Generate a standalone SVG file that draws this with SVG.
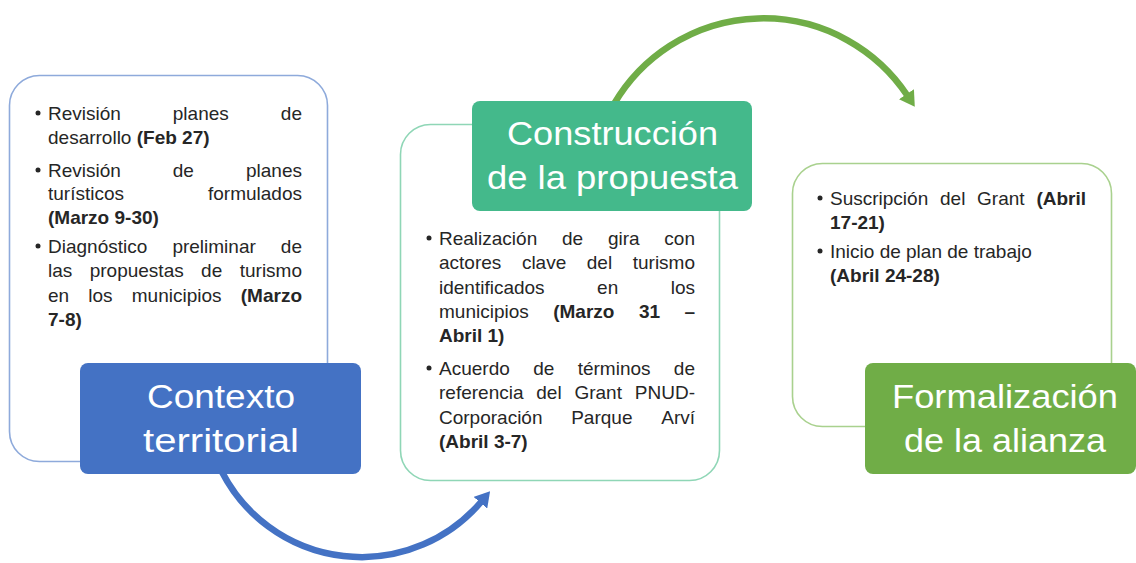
<svg xmlns="http://www.w3.org/2000/svg" width="1136" height="563" viewBox="0 0 1136 563">
<defs>
<style>
.body{font-family:"Liberation Sans",Arial,sans-serif;font-size:19px;fill:#262626}
.b{font-weight:bold}
.lab{font-family:"Liberation Sans",Arial,sans-serif;font-size:33px;fill:#ffffff}
.dot{fill:#262626}
.card{fill:#ffffff;stroke-width:1.6}
</style>
<marker id="ahBlue" markerUnits="userSpaceOnUse" markerWidth="15" markerHeight="18" viewBox="0 0 15 18" refX="1" refY="9" orient="auto">
<path d="M0,0 L15,9 L0,18 z" fill="#4472c4"/>
</marker>
<marker id="ahGreen" markerUnits="userSpaceOnUse" markerWidth="15" markerHeight="18" viewBox="0 0 15 18" refX="1" refY="9" orient="auto">
<path d="M0,0 L15,9 L0,18 z" fill="#70ad47"/>
</marker>
</defs>
<rect width="1136" height="563" fill="#ffffff"/>

<g id="connectors" fill="none" stroke-width="6.5">
<path d="M222,472 A157,157 0 0 0 481,502" stroke="#4472c4" marker-end="url(#ahBlue)"/>
<path d="M614,104 A173,173 0 0 1 907,95" stroke="#70ad47" marker-end="url(#ahGreen)"/>
</g>

<g id="node-contexto">
<rect class="card" x="9.5" y="75.5" width="318" height="386" rx="30" stroke="#8eaadb"/>
<circle class="dot" cx="38" cy="113" r="2.5"/>
<text class="body" x="48" y="120">Revisión</text>
<text class="body" x="172.8" y="120">planes</text>
<text class="body" x="302" y="120" text-anchor="end">de</text>
<text class="body" x="48" y="144">desarrollo <tspan class="b">(Feb 27)</tspan></text>
<circle class="dot" cx="38" cy="170" r="2.5"/>
<text class="body" x="48" y="177">Revisión</text>
<text class="body" x="172.8" y="177">de</text>
<text class="body" x="302" y="177" text-anchor="end">planes</text>
<text class="body" x="48" y="200">turísticos</text>
<text class="body" x="302" y="200" text-anchor="end">formulados</text>
<text class="body b" x="48" y="224">(Marzo 9-30)</text>
<circle class="dot" cx="38" cy="246" r="2.5"/>
<text class="body" x="48" y="253">Diagnóstico</text>
<text class="body" x="172.4" y="253">preliminar</text>
<text class="body" x="302" y="253" text-anchor="end">de</text>
<text class="body" x="48" y="277">las</text>
<text class="body" x="89.7" y="277">propuestas</text>
<text class="body" x="201.1" y="277">de</text>
<text class="body" x="302" y="277" text-anchor="end">turismo</text>
<text class="body" x="48" y="302">en</text>
<text class="body" x="88.3" y="302">los</text>
<text class="body" x="131.8" y="302">municipios</text>
<text class="body b" x="302" y="302" text-anchor="end">(Marzo</text>
<text class="body b" x="48" y="326">7-8)</text>
<rect x="80" y="363" width="281" height="111" rx="8" fill="#4472c4"/>
<text class="lab" x="147" y="408" textLength="148" lengthAdjust="spacingAndGlyphs">Contexto</text>
<text class="lab" x="143" y="452" textLength="156" lengthAdjust="spacingAndGlyphs">territorial</text>
</g>

<g id="node-construccion">
<rect class="card" x="400.5" y="124.5" width="319" height="356" rx="30" stroke="#8fd6b6"/>
<circle class="dot" cx="429" cy="238" r="2.5"/>
<text class="body" x="439" y="245">Realización</text>
<text class="body" x="562" y="245">de</text>
<text class="body" x="607.9" y="245">gira</text>
<text class="body" x="695" y="245" text-anchor="end">con</text>
<text class="body" x="439" y="269">actores</text>
<text class="body" x="521.9" y="269">clave</text>
<text class="body" x="586.8" y="269">del</text>
<text class="body" x="695" y="269" text-anchor="end">turismo</text>
<text class="body" x="439" y="294">identificados</text>
<text class="body" x="597.1" y="294">en</text>
<text class="body" x="695" y="294" text-anchor="end">los</text>
<text class="body" x="439" y="318">municipios</text>
<text class="body b" x="553.2" y="318">(Marzo</text>
<text class="body b" x="638.9" y="318">31</text>
<text class="body b" x="695" y="318" text-anchor="end">–</text>
<text class="body b" x="439" y="342">Abril 1)</text>
<circle class="dot" cx="429" cy="368" r="2.5"/>
<text class="body" x="439" y="375">Acuerdo</text>
<text class="body" x="533.2" y="375">de</text>
<text class="body" x="577.7" y="375">términos</text>
<text class="body" x="695" y="375" text-anchor="end">de</text>
<text class="body" x="439" y="399">referencia</text>
<text class="body" x="536.3" y="399">del</text>
<text class="body" x="574.4" y="399">Grant</text>
<text class="body" x="695" y="399" text-anchor="end">PNUD-</text>
<text class="body" x="439" y="424">Corporación</text>
<text class="body" x="571.2" y="424">Parque</text>
<text class="body" x="695" y="424" text-anchor="end">Arví</text>
<text class="body b" x="439" y="448">(Abril 3-7)</text>
<rect x="472" y="101" width="280" height="110" rx="8" fill="#44b98b"/>
<text class="lab" x="507" y="145" textLength="211" lengthAdjust="spacingAndGlyphs">Construcción</text>
<text class="lab" x="487" y="189" textLength="251" lengthAdjust="spacingAndGlyphs">de la propuesta</text>
</g>

<g id="node-formalizacion">
<rect class="card" x="792.5" y="163.5" width="319" height="263" rx="30" stroke="#a9d18e"/>
<circle class="dot" cx="820" cy="198" r="2.5"/>
<text class="body" x="830" y="205">Suscripción</text>
<text class="body" x="940" y="205">del</text>
<text class="body" x="977.1" y="205">Grant</text>
<text class="body b" x="1086" y="205" text-anchor="end">(Abril</text>
<text class="body b" x="830" y="229">17-21)</text>
<circle class="dot" cx="820" cy="251" r="2.5"/>
<text class="body" x="830" y="258">Inicio de plan de trabajo</text>
<text class="body b" x="830" y="282">(Abril 24-28)</text>
<rect x="865" y="363" width="271" height="111" rx="8" fill="#70ad47"/>
<text class="lab" x="892" y="408" textLength="226" lengthAdjust="spacingAndGlyphs">Formalización</text>
<text class="lab" x="904" y="452" textLength="202" lengthAdjust="spacingAndGlyphs">de la alianza</text>
</g>
</svg>
